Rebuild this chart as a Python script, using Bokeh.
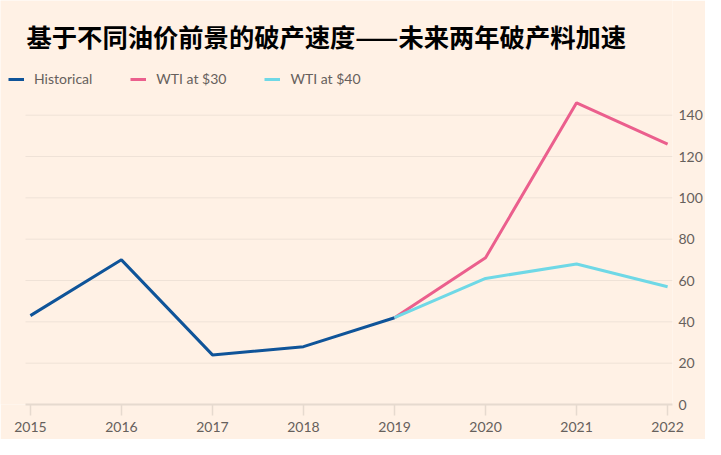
from bokeh.plotting import figure
from bokeh.models import Range1d, Legend, LegendItem, FixedTicker, Label
from bokeh.embed import file_html
from bokeh.resources import INLINE

# ---- data ----
years_hist = [2015, 2016, 2017, 2018, 2019]
historical = [43, 70, 24, 28, 42]
years_fc = [2019, 2020, 2021, 2022]
wti30 = [42, 71, 146, 126]
wti40 = [42, 61, 68, 57]
x_ticks = [2015, 2016, 2017, 2018, 2019, 2020, 2021, 2022]
y_ticks = [0, 20, 40, 60, 80, 100, 120, 140]
title_text = "基于不同油价前景的破产速度——未来两年破产料加速"
series_names = ["Historical", "WTI at $30", "WTI at $40"]

BG = "#fff1e5"
C_HIST = "#0f5499"
C_30 = "#eb5f8d"
C_40 = "#6fd8e6"
TXT = "#66605c"
AXIS_C = "#e6dacf"
GRID_C = "#efe2d7"

X0, X1 = 2014.6715, 2022.0537      # visible x extent (frame covers title/legend area)
XB0 = 2014.946                     # left end of axis line / grid lines
Y1 = 195.5

p = figure(width=705, height=439, output_backend="svg", toolbar_location=None,
           x_range=Range1d(X0, X1), y_range=Range1d(0, Y1),
           y_axis_location="right",
           background_fill_color=BG, border_fill_color=BG, outline_line_color=None,
           min_border_left=0, min_border_right=33, min_border_bottom=35, min_border_top=0)

# horizontal grid lines (limited to the axis extent like the original)
grid_y = y_ticks[1:]
p.segment(x0=[XB0] * len(grid_y), y0=grid_y, x1=[X1] * len(grid_y), y1=grid_y,
          line_color=GRID_C, line_width=1)

r1 = p.line(years_hist, historical, line_color=C_HIST, line_width=3)
r2 = p.line(years_fc, wti30, line_color=C_30, line_width=3)
r3 = p.line(years_fc, wti40, line_color=C_40, line_width=3)

title = Label(x=26, y=369, x_units="screen", y_units="screen", text=title_text,
              text_font="Noto Sans CJK SC", text_font_size="25.3px",
              text_font_style="bold", text_color="#000000",
              text_baseline="middle", text_align="left")
p.add_layout(title)

legend = Legend(items=[LegendItem(label=series_names[0], renderers=[r1]),
                       LegendItem(label=series_names[1], renderers=[r2]),
                       LegendItem(label=series_names[2], renderers=[r3])],
                orientation="horizontal", location=(8, 317),
                background_fill_alpha=0, border_line_color=None,
                padding=0, margin=0, spacing=38, label_standoff=10,
                glyph_width=16, glyph_height=16, label_height=16,
                label_text_font="Lato", label_text_font_size="14px",
                label_text_color=TXT)
p.add_layout(legend)

# x axis
xa = p.xaxis[0]
xa.ticker = FixedTicker(ticks=x_ticks)
xa.bounds = (XB0, X1)
xa.axis_line_color = AXIS_C
xa.axis_line_width = 2
xa.major_tick_line_color = AXIS_C
xa.major_tick_line_width = 1.5
xa.major_tick_in = 0
xa.major_tick_out = 11
xa.minor_tick_line_color = None
xa.major_label_text_font = "Lato"
xa.major_label_text_font_size = "14px"
xa.major_label_text_color = TXT
xa.major_label_standoff = 6

ya = p.yaxis[0]
ya.ticker = FixedTicker(ticks=y_ticks)
ya.axis_line_color = None
ya.major_tick_line_color = None
ya.minor_tick_line_color = None
ya.major_tick_in = 0
ya.major_tick_out = 0
ya.minor_tick_in = 0
ya.minor_tick_out = 0
ya.major_label_text_font = "Lato"
ya.major_label_text_font_size = "14px"
ya.major_label_text_color = TXT
ya.major_label_standoff = 6

p.xgrid.grid_line_color = None
p.ygrid.grid_line_color = None

open("out.html", "w").write(file_html(p, INLINE))
